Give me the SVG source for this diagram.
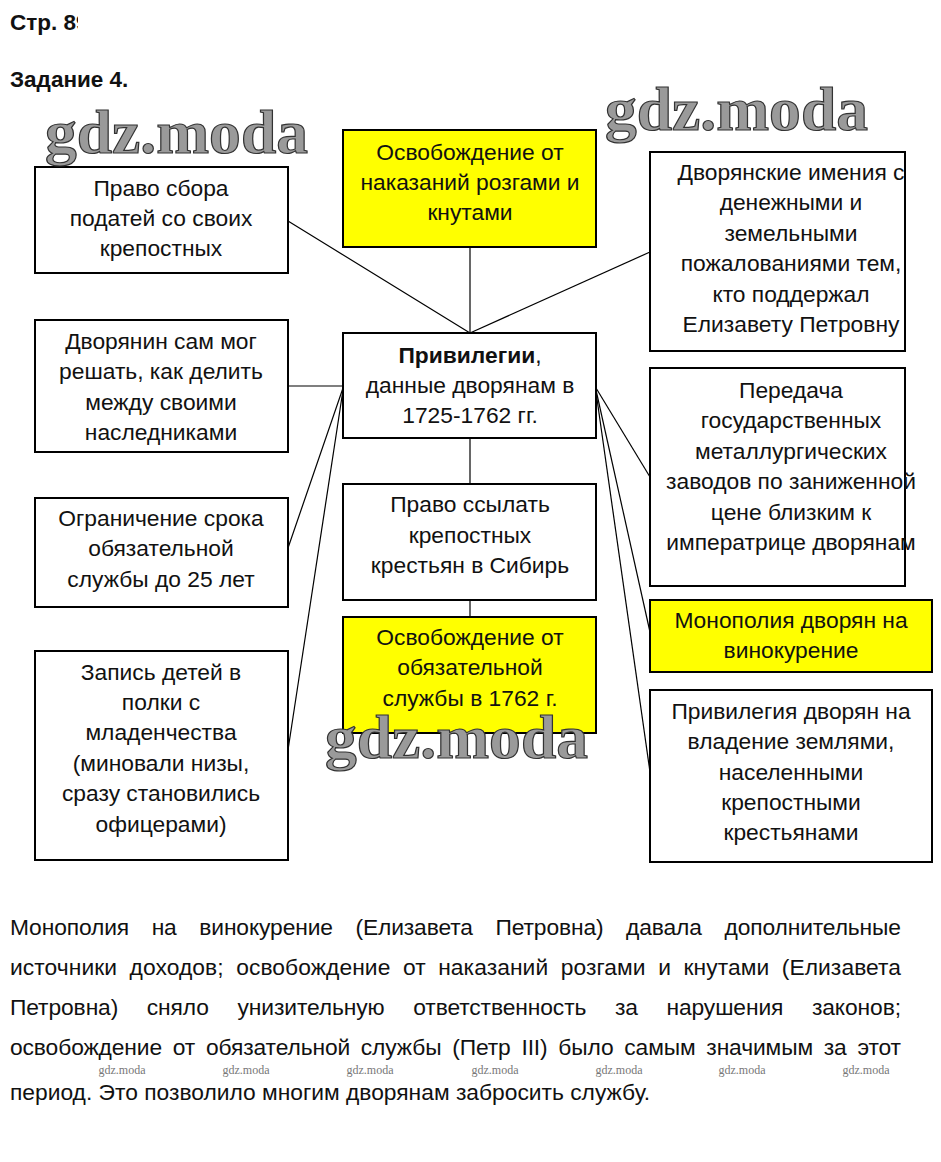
<svg xmlns="http://www.w3.org/2000/svg" width="941" height="1162" viewBox="0 0 941 1162">
<style>
.box{fill:#fff;stroke:#000;stroke-width:2}
.yel{fill:#ffff00;stroke:#000;stroke-width:2}
.t{font-family:"Liberation Sans",Arial,sans-serif;font-size:22.8px;fill:#111;text-anchor:middle}
.p{font-family:"Liberation Sans",Arial,sans-serif;font-size:22.8px;fill:#111}
.h{font-family:"Liberation Sans",Arial,sans-serif;font-size:22.5px;font-weight:bold;fill:#111}
.wm{font-family:"Liberation Serif","Times New Roman",serif;font-weight:bold;font-size:62px;fill:#9a9a9a;stroke:#333;stroke-width:1.2}
.ws{font-family:"Liberation Serif","Times New Roman",serif;font-size:12px;fill:#777;text-anchor:middle}
.c{stroke:#000;stroke-width:1.2;fill:none}
</style>
<defs><clipPath id="hc"><rect x="0" y="0" width="78" height="50"/></clipPath></defs>
<rect width="941" height="1162" fill="#fff"/>
<text class="h" x="10" y="30" clip-path="url(#hc)">Стр. 89</text>
<text class="h" x="10" y="87">Задание 4.</text>

<g id="connectors">
<line class="c" x1="470" y1="247" x2="470" y2="333"/>
<line class="c" x1="288" y1="221" x2="470" y2="333"/>
<line class="c" x1="650" y1="252" x2="470" y2="333"/>
<line class="c" x1="288" y1="386" x2="343" y2="386"/>
<line class="c" x1="343" y1="388" x2="288" y2="548"/>
<line class="c" x1="343" y1="390" x2="288" y2="750"/>
<line class="c" x1="596" y1="388" x2="650" y2="477"/>
<line class="c" x1="596" y1="390" x2="650" y2="632"/>
<line class="c" x1="596" y1="392" x2="650" y2="772"/>
<line class="c" x1="470" y1="438" x2="470" y2="484"/>
<line class="c" x1="470" y1="600" x2="470" y2="617"/>
</g>

<g id="n-top-yellow">
<rect class="yel" x="343" y="130" width="253" height="117"/>
<text class="t" x="470" y="160">Освобождение от</text>
<text class="t" x="470" y="190">наказаний розгами и</text>
<text class="t" x="470" y="220">кнутами</text>
</g>
<g id="n-left1">
<rect class="box" x="35" y="167" width="253" height="106"/>
<text class="t" x="161" y="196">Право сбора</text>
<text class="t" x="161" y="226">податей со своих</text>
<text class="t" x="161" y="256">крепостных</text>
</g>
<g id="n-right1">
<rect class="box" x="650" y="152" width="255" height="199"/>
<text class="t" x="791" y="180">Дворянские имения с</text>
<text class="t" x="791" y="210">денежными и</text>
<text class="t" x="791" y="241">земельными</text>
<text class="t" x="791" y="271">пожалованиями тем,</text>
<text class="t" x="791" y="302">кто поддержал</text>
<text class="t" x="791" y="332">Елизавету Петровну</text>
</g>
<g id="n-left2">
<rect class="box" x="35" y="320" width="253" height="132"/>
<text class="t" x="161" y="349">Дворянин сам мог</text>
<text class="t" x="161" y="379">решать, как делить</text>
<text class="t" x="161" y="410">между своими</text>
<text class="t" x="161" y="440">наследниками</text>
</g>
<g id="n-center">
<rect class="box" x="343" y="333" width="253" height="105"/>
<text class="t" x="470" y="363"><tspan font-weight="bold">Привилегии</tspan>,</text>
<text class="t" x="470" y="393">данные дворянам в</text>
<text class="t" x="470" y="423">1725-1762 гг.</text>
</g>
<g id="n-right2">
<rect class="box" x="650" y="368" width="255" height="218"/>
<text class="t" x="791" y="398">Передача</text>
<text class="t" x="791" y="428">государственных</text>
<text class="t" x="791" y="459">металлургических</text>
<text class="t" x="791" y="489">заводов по заниженной</text>
<text class="t" x="791" y="520">цене близким к</text>
<text class="t" x="791" y="550">императрице дворянам</text>
</g>
<g id="n-left3">
<rect class="box" x="35" y="498" width="253" height="109"/>
<text class="t" x="161" y="526">Ограничение срока</text>
<text class="t" x="161" y="556">обязательной</text>
<text class="t" x="161" y="587">службы до 25 лет</text>
</g>
<g id="n-mid2">
<rect class="box" x="343" y="484" width="253" height="116"/>
<text class="t" x="470" y="512">Право ссылать</text>
<text class="t" x="470" y="543">крепостных</text>
<text class="t" x="470" y="573">крестьян в Сибирь</text>
</g>
<g id="n-right3-yellow">
<rect class="yel" x="650" y="600" width="282" height="72"/>
<text class="t" x="791" y="628">Монополия дворян на</text>
<text class="t" x="791" y="658">винокурение</text>
</g>
<g id="n-mid-yellow">
<rect class="yel" x="343" y="617" width="253" height="116"/>
<text class="t" x="470" y="645">Освобождение от</text>
<text class="t" x="470" y="675">обязательной</text>
<text class="t" x="470" y="706">службы в 1762 г.</text>
</g>
<g id="n-left4">
<rect class="box" x="35" y="651" width="253" height="209"/>
<text class="t" x="161" y="680">Запись детей в</text>
<text class="t" x="161" y="710">полки с</text>
<text class="t" x="161" y="740">младенчества</text>
<text class="t" x="161" y="771">(миновали низы,</text>
<text class="t" x="161" y="801">сразу становились</text>
<text class="t" x="161" y="832">офицерами)</text>
</g>
<g id="n-right4">
<rect class="box" x="650" y="690" width="282" height="172"/>
<text class="t" x="791" y="719">Привилегия дворян на</text>
<text class="t" x="791" y="749">владение землями,</text>
<text class="t" x="791" y="780">населенными</text>
<text class="t" x="791" y="810">крепостными</text>
<text class="t" x="791" y="840">крестьянами</text>
</g>

<g id="watermarks">
<text class="wm" x="45" y="153" textLength="263" lengthAdjust="spacingAndGlyphs">gdz.moda</text>
<text class="wm" x="605" y="130" textLength="263" lengthAdjust="spacingAndGlyphs">gdz.moda</text>
<text class="wm" x="325" y="758" textLength="263" lengthAdjust="spacingAndGlyphs">gdz.moda</text>
<text class="ws" x="122" y="1074">gdz.moda</text>
<text class="ws" x="246" y="1074">gdz.moda</text>
<text class="ws" x="370" y="1074">gdz.moda</text>
<text class="ws" x="495" y="1074">gdz.moda</text>
<text class="ws" x="619" y="1074">gdz.moda</text>
<text class="ws" x="742" y="1074">gdz.moda</text>
<text class="ws" x="866" y="1074">gdz.moda</text>
</g>

<g id="paragraph">
<text class="p" x="10" y="935" word-spacing="16.4" textLength="891" lengthAdjust="spacing">Монополия на винокурение (Елизавета Петровна) давала дополнительные</text>
<text class="p" x="10" y="975" word-spacing="6.1" textLength="891" lengthAdjust="spacing">источники доходов; освобождение от наказаний розгами и кнутами (Елизавета</text>
<text class="p" x="10" y="1015" word-spacing="22.4" textLength="891" lengthAdjust="spacing">Петровна) сняло унизительную ответственность за нарушения законов;</text>
<text class="p" x="10" y="1055" word-spacing="4.5" textLength="891" lengthAdjust="spacing">освобождение от обязательной службы (Петр III) было самым значимым за этот</text>
<text class="p" x="10" y="1100">период. Это позволило многим дворянам забросить службу.</text>
</g>
</svg>
